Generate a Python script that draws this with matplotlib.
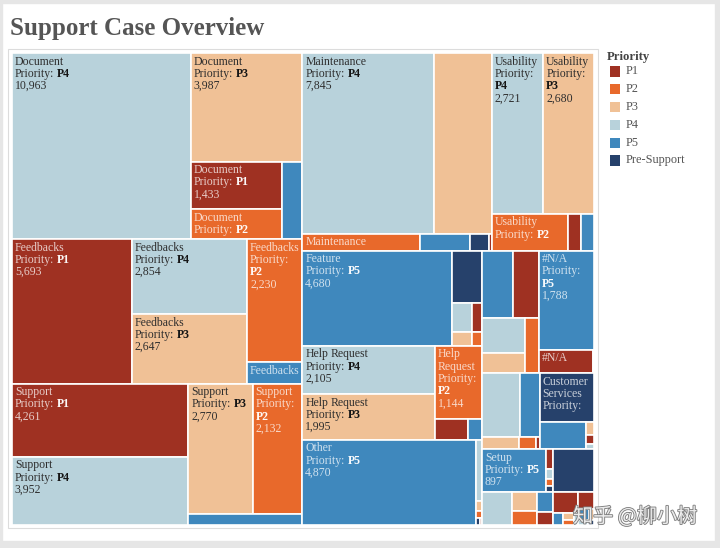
import matplotlib
matplotlib.use('Agg')
import matplotlib.pyplot as plt
from matplotlib.patches import Rectangle
from matplotlib.font_manager import FontProperties
import matplotlib.patheffects as pe

# case counts per category (one list per priority, same order as categories)
categories = ['Document', 'Feedbacks', 'Support', 'Maintenance', 'Usability',
              'Feature', 'Help Request', 'Other', 'Installation', '#N/A',
              'Performance', 'Customer Services', 'Setup', 'Licensing',
              'Integration', 'Billing', 'Security']
p1 = [1433, 5693, 4261, 17, 160, 97, 228, 5, 590, 415, 16, 24, 44, 70, 0, 177, 85]
p2 = [890, 2230, 2132, 664, 915, 47, 1144, 15, 250, 0, 64, 0, 16, 110, 0, 20, 0]
p3 = [3987, 2647, 2770, 3435, 2680, 89, 1995, 20, 285, 10, 144, 32, 0, 161, 0, 25, 20]
p4 = [10963, 2854, 3952, 7845, 2721, 194, 2105, 120, 500, 0, 791, 12, 21, 329, 0, 15, 15]
p5 = [520, 390, 400, 278, 155, 4680, 96, 4870, 680, 1788, 428, 421, 897, 105, 0, 40, 40]
pre = [0, 0, 0, 108, 0, 528, 0, 8, 0, 0, 0, 866, 12, 0, 589, 0, 10]

priorities = ['P1', 'P2', 'P3', 'P4', 'P5', 'Pre-Support']
series = [p1, p2, p3, p4, p5, pre]
colors = ['#9f3122', '#e8692b', '#f0c196', '#b8d2db', '#3f88bd', '#26416b']
dark_bg = [True, True, False, False, True, True]

FIG_W, FIG_H = 720, 548
PX, PY, PW, PH = 12, 53, 582, 472  # treemap area in pixels

fig = plt.figure(figsize=(FIG_W / 100, FIG_H / 100), dpi=100)
fig.patch.set_facecolor('white')


def fig_box(x, y, w, h):
    return [x / FIG_W, 1 - (y + h) / FIG_H, w / FIG_W, h / FIG_H]


def fig_rect(x, y, w, h, **kw):
    fig.patches.append(Rectangle((x / FIG_W, 1 - (y + h) / FIG_H), w / FIG_W, h / FIG_H,
                                 transform=fig.transFigure, **kw))


# grey page border like the screenshot
for (bx, by, bw, bh) in [(0, 0, 720, 3), (0, 541, 720, 7), (0, 0, 2, 548), (715, 0, 5, 548)]:
    fig_rect(bx, by, bw, bh, color='#e6e6e6', zorder=0)
fig_rect(8, 49, 590, 479, fill=False, edgecolor='#dcdcdc', linewidth=0.8, zorder=0)

fig.text(10 / FIG_W, 1 - 28 / FIG_H, 'Support Case Overview', family='Liberation Serif',
         weight='bold', size=18, color='#555555', va='center', ha='left')

ax = fig.add_axes(fig_box(PX, PY, PW, PH))
ax.set_xlim(0, PW)
ax.set_ylim(PH, 0)
ax.axis('off')

LIMIT = 3.3


def worst(row, short):
    thick = sum(row) / short
    return max(max(thick / (v / thick), (v / thick) / thick) for v in row)


def squarify(vals, x, y, w, h):
    rects = []
    items = list(vals)
    while items:
        if len(items) == 1:
            rects.append((x, y, w, h))
            break
        short = min(w, h)
        row = [items[0]]
        while len(row) < len(items):
            cand = row + [items[len(row)]]
            cur, new = worst(row, short), worst(cand, short)
            if new <= cur or new <= LIMIT:
                row = cand
            else:
                break
        thick = sum(row) / short
        if w >= h:
            yy = y
            for v in row:
                rects.append((x, yy, thick, v / thick))
                yy += v / thick
            x += thick
            w -= thick
        else:
            xx = x
            for v in row:
                rects.append((xx, y, v / thick, thick))
                xx += v / thick
            y += thick
            h -= thick
        items = items[len(row):]
    return rects


prop = FontProperties(family='Liberation Serif', size=8.5)
prop_b = FontProperties(family='Liberation Serif', size=8.5, weight='bold')
renderer = fig.canvas.get_renderer()


def tw(s, bold=False):
    w, h, d = renderer.get_text_width_height_descent(s, prop_b if bold else prop, ismath=False)
    return w


SPACE = tw('a a') - tw('aa')
LH = 12.3


def wrap(tokens, avail):
    lines, cur, cur_w = [], [], 0
    for t in tokens:
        wt = tw(t[0], t[1])
        if cur and cur_w + SPACE + wt > avail:
            lines.append(cur)
            cur, cur_w = [], 0
        cur_w = wt if not cur else cur_w + SPACE + wt
        cur.append(t)
    if cur:
        lines.append(cur)
    return lines


def label(x, y, w, h, cat, j, val):
    avail = w - 4
    cat_tokens = [(s, False) for s in cat.split()]
    if any(tw(s) > avail for s, b in cat_tokens):
        return
    lines = wrap(cat_tokens, avail)
    lines += wrap([('Priority:', False), (priorities[j], True)], avail)
    lines += wrap([(f'{val:,}', False)], avail)
    nfit = int((h - 3) // LH)
    if nfit < 1:
        return
    lines = lines[:nfit]
    if any(tw(s, b) > avail for ln in lines for s, b in ln):
        return
    if dark_bg[j]:
        c_norm, c_bold = (1, 1, 1, 0.75), (1, 1, 1, 0.97)
    else:
        c_norm, c_bold = '#2e2e2e', '#151515'
    for k, ln in enumerate(lines):
        xc = x + 2.8
        for s, b in ln:
            ax.text(xc, y + 2.5 + k * LH, s, fontproperties=prop_b if b else prop,
                    color=c_bold if b else c_norm, va='top', ha='left')
            xc += tw(s, b) + SPACE


totals = [sum(s[i] for s in series) for i in range(len(categories))]
scale = PW * PH / sum(totals)
order = sorted(range(len(categories)), key=lambda i: -totals[i])
group_rects = squarify([totals[i] * scale for i in order], 0, 0, PW, PH)

for gi, (gx, gy, gw, gh) in zip(order, group_rects):
    cells = sorted([(series[j][gi], j) for j in range(len(series)) if series[j][gi] > 0],
                   key=lambda t: -t[0])
    rects = squarify([v * scale for v, j in cells], gx, gy, gw, gh)
    for (v, j), (x, y, w, h) in zip(cells, rects):
        ax.add_patch(Rectangle((x, y), w, h, facecolor=colors[j], edgecolor='white',
                               linewidth=1.2, clip_on=False))
        label(x, y, w, h, categories[gi], j, v)

# colour legend
fig.text(607 / FIG_W, 1 - 57 / FIG_H, 'Priority', family='Liberation Serif', weight='bold',
         size=9.2, color='#444444', va='center', ha='left')
for k, (c, p) in enumerate(zip(colors, priorities)):
    cy = 71.5 + k * 17.8
    fig_rect(610, cy - 5, 10, 10, facecolor=c, edgecolor='none')
    fig.text(626 / FIG_W, 1 - cy / FIG_H, p, family='Liberation Serif', size=8.8,
             color='#555555', va='center', ha='left')

fig.text(573 / FIG_W, 1 - 517 / FIG_H, '知乎 @柳小树', family=['Noto Sans CJK SC', 'DejaVu Sans'],
         size=14.5, color=(1, 1, 1, 0.85), va='center', ha='left',
         path_effects=[pe.withStroke(linewidth=1.3, foreground='#808080')])

fig.savefig('out.png', dpi=100)
